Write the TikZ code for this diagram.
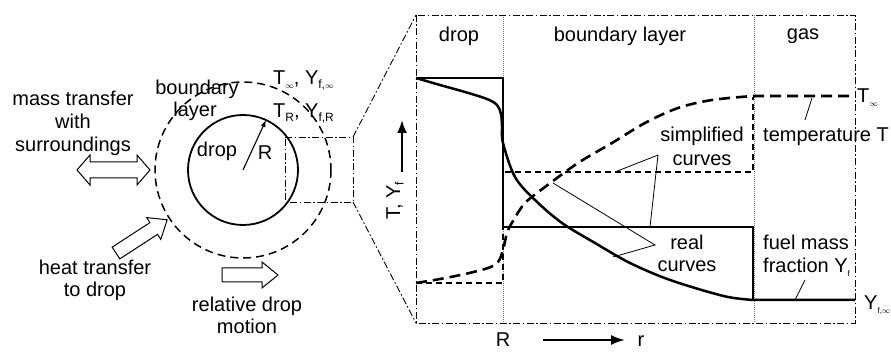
\documentclass[tikz,border=0pt]{standalone}
\usepackage{fontspec}
\setmainfont{Liberation Sans}
\usetikzlibrary{arrows.meta}
\newcommand{\lsb}[1]{\raisebox{-3.5pt}{\fontsize{12}{12}\selectfont #1}}
\newcommand{\tsb}[1]{\raisebox{-3.5pt}{\fontsize{8}{8}\selectfont #1}}
\begin{document}
\begin{tikzpicture}[x=1pt,y=-1pt,
  lbl/.style={font=\fontsize{20}{23}\selectfont,inner sep=0pt,anchor=base},
  lblw/.style={lbl,anchor=base west},
  thin/.style={line width=0.8pt},
  simple/.style={line width=1.2pt},
  simpledash/.style={line width=1.2pt,dash pattern=on 6pt off 4pt},
  realcurve/.style={line width=2.5pt},
  realdash/.style={line width=2.6pt,dash pattern=on 11pt off 6pt},
  dashdot/.style={line width=0.9pt,dash pattern=on 7pt off 2.5pt on 1.5pt off 2.5pt},
  divider/.style={line width=0.7pt,gray,dash pattern=on 1pt off 1pt},
  blockarrow/.style={line width=1pt,line join=miter},
  leader/.style={line width=0.8pt}]
\useasboundingbox (0,0) rectangle (891,352);

% ---------- left: drop with boundary layer ----------
\coordinate (c) at (243,170);
\coordinate (rtip) at (266,120);
\draw[line width=1.5pt,dash pattern=on 8pt off 5pt] (c) circle[radius=88];
\draw[line width=1.8pt] (c) circle[radius=55];
\draw[line width=1.1pt,-{Latex[length=7pt,width=5pt]}] (c) -- (rtip);

% detail box on the drop
\draw[dashdot] (285,137) -- (353,137) -- (353,202) -- (285,202) -- cycle;
\draw[dashdot] (353,137) -- (416,15);
\draw[dashdot] (353,202) -- (416,323);

\node[lbl] (tdrop) at (217,157) {drop};
\node[lbl] (tR) at (265,160) {R};
\node[lbl] (tbound) at (197,95) {boundary};
\node[lbl] (tlayer) at (195,117) {layer};
\node[lblw] (tinf) at (273,85) {T\tsb{$\infty$}, Y\lsb{f,\fontsize{8}{8}\selectfont$\infty$}};
\node[lblw] (tTR) at (273,118) {T\lsb{R}, Y\lsb{f,R}};

\node[lbl] (tm1) at (73,106) {mass transfer};
\node[lbl] (tm2) at (73,129) {with};
\node[lbl] (tm3) at (73,152) {surroundings};
\node[lbl] (th1) at (95,275) {heat transfer};
\node[lbl] (th2) at (95,297) {to drop};
\node[lbl] (tr1) at (247,312) {relative drop};
\node[lbl] (tr2) at (247,334) {motion};

% block arrows
\begin{scope}[shift={(77,170)}]
\draw[blockarrow] (0,0) -- (13,-15) -- (13,-8) -- (60,-8) -- (60,-15) -- (73,0)
  -- (60,15) -- (60,8) -- (13,8) -- (13,15) -- cycle;
\end{scope}
\begin{scope}[shift={(116,253)},rotate=33]
\draw[blockarrow] (0,-7) -- (45,-7) -- (45,-13) -- (61,0) -- (45,13) -- (45,7) -- (0,7) -- cycle;
\end{scope}
\begin{scope}[shift={(222,275)}]
\draw[blockarrow] (0,-7) -- (40,-7) -- (40,-13) -- (56,0) -- (40,13) -- (40,7) -- (0,7) -- cycle;
\end{scope}

% ---------- right: profile diagram ----------
\draw[divider] (503,15) -- (503,323);
\draw[divider] (754,15) -- (754,323);
\draw[dashdot] (416,15) rectangle (855,323);

\node[lbl] (hdrop) at (459,42) {drop};
\node[lbl] (hbl) at (620,42) {boundary layer};
\node[lbl] (hgas) at (803,40) {gas};

% simplified curves
\draw[simple] (416,78) -- (503,78) -- (503,227) -- (753,227) -- (753,300);
\draw[simpledash] (416,283) -- (503,283) -- (503,172) -- (753,172) -- (753,97);

% real curves
\draw[realcurve,line join=round] plot[smooth,tension=0.55] coordinates
  {(416,78) (440,85) (465,92) (487,99) (497,105) (501,114) (502,126) (503,143)
   (515,177) (535,200) (562,223) (595,243) (628,262) (662,277) (695,288) (728,297) (753,300)}
  -- (855,300);
\draw[realdash] plot[smooth,tension=0.55] coordinates
  {(416,283) (440,279) (465,274) (488,268) (498,262) (503,250) (507,233)
   (513,221) (525,203) (545,187) (578,163) (612,143) (645,123) (678,108) (712,100) (753,96)}
  -- (855,96);

% leaders
\coordinate (sv) at (658,155);
\draw[leader] (615,172) -- (sv) -- (650,227);
\coordinate (rv) at (655,245);
\draw[leader] (553,183) -- (rv) -- (613,257);
\draw[leader] (805,120) -- (812,98);
\draw[leader] (795,300) -- (805,280);

\node[lbl] (ts1) at (702,142) {simplified};
\node[lbl] (ts2) at (702,166) {curves};
\node[lbl] (tr1b) at (687,250) {real};
\node[lbl] (tr2b) at (687,272) {curves};
\node[lblw] (ttemp) at (763,142) {temperature T};
\node[lblw] (tf1) at (763,250) {fuel mass};
\node[lblw] (tf2) at (763,273) {fraction Y\tsb{f}};
\node[lblw] (tTinf) at (857,103) {T\tsb{$\infty$}};
\node[lblw] (tYinf) at (864,310) {Y\tsb{f,$\infty$}};

% axes labels
\node[lbl,rotate=90,anchor=center] (tTY) at (395,201) {T, Y\lsb{f}};
\coordinate (ya0) at (402,172);
\coordinate (ya1) at (402,120);
\draw[line width=2pt,-{Latex[length=13pt,width=10pt]}] (ya0) -- (ya1);
\node[lbl] (tRb) at (503,347) {R};
\coordinate (ra0) at (543,340);
\coordinate (ra1) at (625,340);
\draw[line width=2pt,-{Latex[length=14pt,width=10pt]}] (ra0) -- (ra1);
\node[lbl] (trr) at (641,347) {r};
\end{tikzpicture}
\end{document}
